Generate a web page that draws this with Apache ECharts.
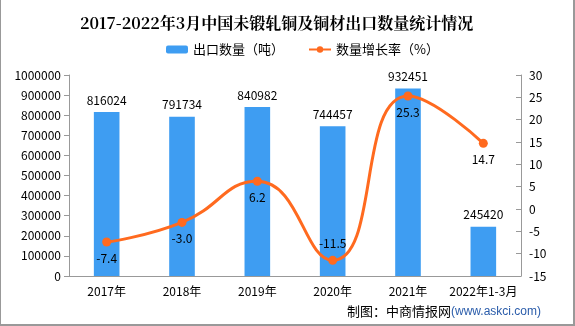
<!DOCTYPE html>
<html><head><meta charset="utf-8">
<script src="https://cdn.jsdelivr.net/npm/echarts@6/dist/echarts.min.js"></script>
<style>
html,body{margin:0;padding:0;background:#fff;}
#c{width:575px;height:326px;box-sizing:border-box;border-left:1px solid #999;border-right:2px solid #999;border-bottom:2px solid #999;}
</style></head>
<body><div id="c"></div>
<script>
const categories = ['2017年','2018年','2019年','2020年','2021年','2022年1-3月'];
const exportQty = [816024, 791734, 840982, 744457, 932451, 245420];
const growthRate = [-7.4, -3.0, 6.2, -11.5, 25.3, 14.7];
const growthLabelPos = ['bottom','bottom','bottom','top','bottom','bottom'];

const FONT = '"SimSun","Noto Sans CJK SC",sans-serif';
const chart = echarts.init(document.getElementById('c'));
chart.setOption({
  backgroundColor:'#fff',
  animation:false,
  title:{
    text:'2017-2022年3月中国未锻轧铜及铜材出口数量统计情况',
    left:74, top:10,
    textStyle:{fontSize:16,fontWeight:'bold',color:'#000',fontFamily:'"Noto Serif CJK SC","Noto Sans CJK SC",serif'}
  },
  legend:{
    top:38, left:160, itemGap:24, itemWidth:22, itemHeight:8,
    textStyle:{fontSize:13,color:'#000',fontFamily:FONT},
    data:[{name:'出口数量（吨）'},{name:'数量增长率（%）'}]
  },
  grid:{left:68,right:52,top:75,bottom:48},
  xAxis:{
    type:'category', data:categories,
    axisLine:{lineStyle:{color:'#999'}},
    axisTick:{lineStyle:{color:'#999'}},
    axisLabel:{color:'#000',fontSize:12,fontFamily:FONT,margin:9,interval:0}
  },
  yAxis:[{
    type:'value', min:0, max:1000000, interval:100000,
    axisLine:{show:true,lineStyle:{color:'#999'}},
    axisTick:{show:true,lineStyle:{color:'#999'}},
    splitLine:{show:false},
    axisLabel:{color:'#000',fontSize:12,fontFamily:FONT,margin:8,formatter:v=>String(v)}
  },{
    type:'value', min:-15, max:30, interval:5,
    axisLine:{show:true,lineStyle:{color:'#999'}},
    axisTick:{show:true,inside:true,lineStyle:{color:'#999'}},
    splitLine:{show:false},
    axisLabel:{color:'#000',fontSize:12,fontFamily:FONT,margin:8}
  }],
  series:[{
    name:'出口数量（吨）', type:'bar', data:exportQty, barWidth:'34%',
    itemStyle:{color:'#3E9DF2'},
    label:{show:true,position:'top',distance:6,color:'#000',fontSize:12,fontFamily:FONT}
  },{
    name:'数量增长率（%）', type:'line', yAxisIndex:1, smooth:0.5,
    data:growthRate.map((v,i)=>({value:v,label:{position:growthLabelPos[i]}})),
    symbol:'circle', symbolSize:9,
    lineStyle:{width:3,color:'#FF6A1F'},
    itemStyle:{color:'#FF6A1F'},
    label:{show:true,distance:6,color:'#000',fontSize:12,fontFamily:FONT,formatter:p=>p.value.toFixed(1)}
  }],
  graphic:[{
    type:'text', right:32, bottom:6,
    style:{
      text:'{a|制图：中商情报网}{b|(www.askci.com)}',
      rich:{
        a:{fontSize:13,fill:'#000',fontFamily:FONT},
        b:{fontSize:12,fill:'#2a5caa',fontFamily:'"Liberation Sans",sans-serif'}
      }
    }
  }]
});
</script></body></html>
